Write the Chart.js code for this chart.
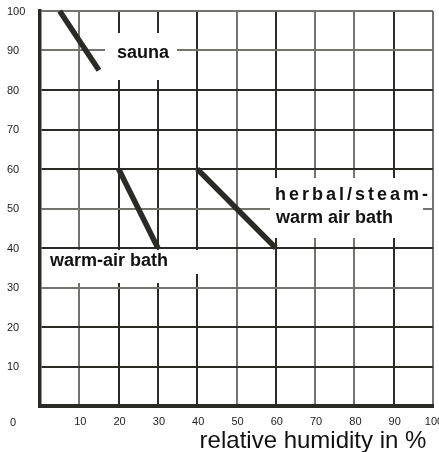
<!DOCTYPE html>
<html>
<head>
<meta charset="utf-8">
<title>Bath climate chart</title>
<script src="https://cdn.jsdelivr.net/npm/chart.js"></script>
<style>
  html, body { margin: 0; padding: 0; background: #fff; }
</style>
</head>
<body>
<canvas id="myChart" width="439" height="452"></canvas>

<script>
// tick labels
const xTicks = [10, 20, 30, 40, 50, 60, 70, 80, 90, 100];
const yTicks = [10, 20, 30, 40, 50, 60, 70, 80, 90, 100];

// series (x = relative humidity %, y = temperature)
const saunaX = [5, 15];
const saunaY = [100, 85];
const warmAirX = [20, 30];
const warmAirY = [60, 40];
const herbalX = [40, 60];
const herbalY = [60, 40];

const xTitle = 'relative humidity in %';

// which grid lines look lighter in the scan
const lightX = [10, 50, 70, 80, 100];
const lightY = [30, 50, 90, 100];

const DARK = '#2a2a26';
const LIGHT = '#74746f';

function pts(xs, ys) {
  return xs.map((x, i) => ({ x: x, y: ys[i] }));
}

function seriesStyle(label, data) {
  return {
    label: label,
    data: data,
    showLine: true,
    borderColor: DARK,
    borderWidth: 5.5,
    pointRadius: 0,
    borderCapStyle: 'butt',
    clip: false
  };
}

// white patches behind the labels, then the text itself
const paper = {
  id: 'paper',
  beforeDatasetsDraw(chart) {
    const c = chart.ctx;
    c.save();
    c.fillStyle = '#fff';
    c.fillRect(105, 33, 72, 47);      // sauna
    c.fillRect(42, 250, 158, 24);     // warm-air bath
    c.fillRect(42, 274, 130, 9);
    c.fillRect(270, 178, 153, 60);    // herbal
    c.restore();
  },
  afterDatasetsDraw(chart) {
    const c = chart.ctx;
    const xs = chart.scales.x, ys = chart.scales.y;
    c.save();
    c.fillStyle = '#111';
    c.textBaseline = 'alphabetic';
    c.textAlign = 'left';
    c.font = 'bold 18px "Liberation Sans", Arial, sans-serif';
    c.fillText('sauna', 117, 57.5);
    c.fillText('warm-air bath', 50, 266);
    c.fillText('warm air bath', 276, 223);
    c.letterSpacing = '3px';
    c.fillText('herbal/steam-', 275, 200);
    c.letterSpacing = '0px';

    // tick labels
    c.fillStyle = '#222';
    c.font = '11px "Liberation Sans Narrow", "Liberation Sans", Arial, sans-serif';
    c.textBaseline = 'middle';
    c.textAlign = 'left';
    yTicks.forEach(v => c.fillText(String(v), 7, ys.getPixelForValue(v) + 0.5));
    c.textAlign = 'center';
    xTicks.forEach(v => c.fillText(String(v), xs.getPixelForValue(v) + 1, 422));
    c.fillText('0', 13, 423);

    // axis title
    c.fillStyle = '#111';
    c.font = '24px "Liberation Sans", Arial, sans-serif';
    c.textBaseline = 'alphabetic';
    c.fillText(xTitle, 313, 448);
    c.restore();
  }
};

new Chart(document.getElementById('myChart'), {
  type: 'scatter',
  data: {
    datasets: [
      seriesStyle('sauna', pts(saunaX, saunaY)),
      seriesStyle('warm-air bath', pts(warmAirX, warmAirY)),
      seriesStyle('herbal/steam-warm air bath', pts(herbalX, herbalY))
    ]
  },
  options: {
    responsive: false,
    animation: false,
    devicePixelRatio: 1,
    layout: { padding: { left: 40, top: 11, right: 6, bottom: 46 } },
    plugins: { legend: { display: false }, tooltip: { enabled: false } },
    scales: {
      x: {
        type: 'linear', min: 0, max: 100,
        ticks: { display: false, stepSize: 10 },
        grid: {
          drawTicks: false,
          lineWidth: 2,
          color: ctx => ctx.tick.value === 0 ? 'rgba(0,0,0,0)' : (lightX.includes(ctx.tick.value) ? LIGHT : DARK)
        },
        border: { display: true, color: DARK, width: 4 },
        afterFit: s => { s.height = 0; }
      },
      y: {
        type: 'linear', min: 0, max: 100,
        ticks: { display: false, stepSize: 10 },
        grid: {
          drawTicks: false,
          lineWidth: 2,
          color: ctx => ctx.tick.value === 0 ? 'rgba(0,0,0,0)' : (lightY.includes(ctx.tick.value) ? LIGHT : DARK)
        },
        border: { display: true, color: DARK, width: 3.5 },
        afterFit: s => { s.width = 0; }
      }
    }
  },
  plugins: [paper]
});
</script>
</body>
</html>
